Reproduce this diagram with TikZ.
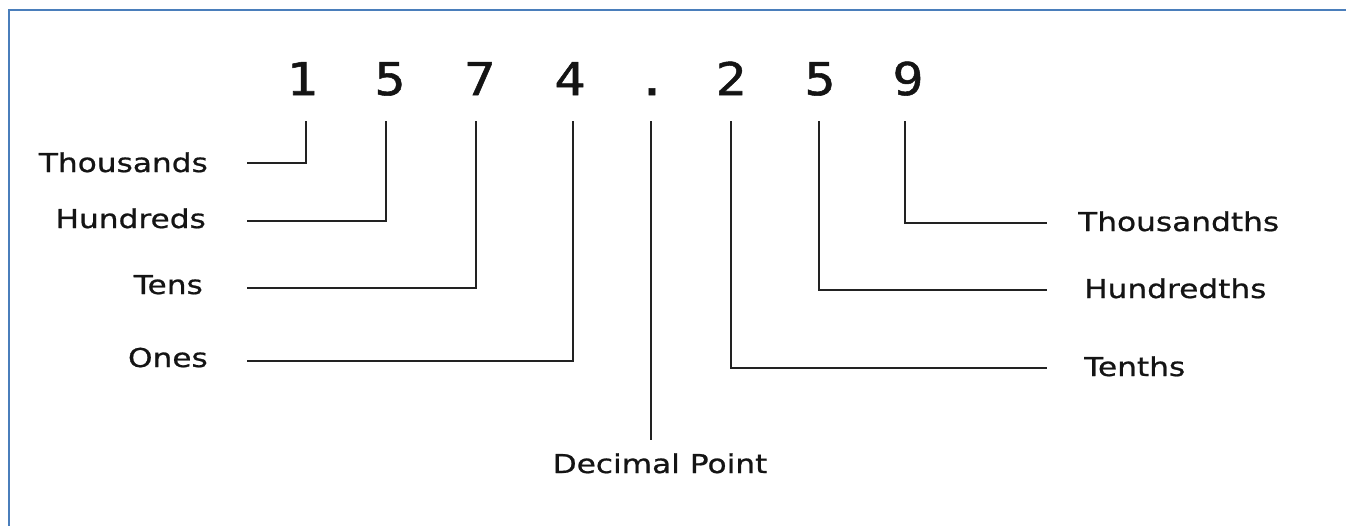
\documentclass[tikz,border=0pt]{standalone}
\usepackage{fontspec}
\setmainfont[FakeStretch=1.2,FakeBold=0.8]{DejaVu Sans}
\newfontfamily\digitfont[FakeStretch=1.15,FakeBold=1.2]{DejaVu Sans Mono}
\definecolor{frameblue}{HTML}{4A7EBB}
\definecolor{ink}{HTML}{141414}
\definecolor{wire}{HTML}{222222}
\tikzset{
  digit/.style={inner sep=0pt, text=ink, font=\digitfont\fontsize{45}{50}\selectfont, anchor=base},
  place/.style={inner sep=0pt, text=ink, font=\fontsize{26}{30}\selectfont},
  leader/.style={draw=wire, line width=2pt},
  frame/.style={draw=frameblue, line width=2.8pt}
}
\begin{document}
\begin{tikzpicture}[x=1pt,y=-1pt]
  \useasboundingbox (0,0) rectangle (1346,525);
  % frame (top and left edges)
  \draw[frame] (9,530) -- (9,10) -- (1350,10);

  % the number
  \node[digit] (d1) at (302,95) {1};
  \node[digit] (d2) at (390,95) {5};
  \node[digit] (d3) at (480,95) {7};
  \node[digit] (d4) at (570,95) {4};
  \node[digit] (dp) at (652,95) {.};
  \node[digit] (d5) at (731,95) {2};
  \node[digit] (d6) at (820,95) {5};
  \node[digit] (d7) at (908,95) {9};

  % place-value labels
  \node[place, anchor=base east] (thousands) at (208,172) {Thousands};
  \node[place, anchor=base east] (hundreds)  at (206,228) {Hundreds};
  \node[place, anchor=base east] (tens)      at (203,294) {Tens};
  \node[place, anchor=base east] (ones)      at (208,367) {Ones};
  \node[place, anchor=base west] (thousandths) at (1078,231) {Thousandths};
  \node[place, anchor=base west] (hundredths)  at (1084,298) {Hundredths};
  \node[place, anchor=base west] (tenths)      at (1084,376) {Tenths};
  \node[place, anchor=base] (point) at (660,473) {Decimal Point};

  % leader tops (just below each digit) and ends (beside each label)
  \coordinate (t1) at (306,121);
  \coordinate (t2) at (386,121);
  \coordinate (t3) at (476,121);
  \coordinate (t4) at (573,121);
  \coordinate (tp) at (651,121);
  \coordinate (t5) at (731,121);
  \coordinate (t6) at (819,121);
  \coordinate (t7) at (905,121);
  \coordinate (e1) at (247,163);
  \coordinate (e2) at (247,221);
  \coordinate (e3) at (247,288);
  \coordinate (e4) at (247,361);
  \coordinate (ep) at (651,440);
  \coordinate (e5) at (1047,368);
  \coordinate (e6) at (1047,290);
  \coordinate (e7) at (1047,223);

  \draw[leader] (t1) |- (e1);
  \draw[leader] (t2) |- (e2);
  \draw[leader] (t3) |- (e3);
  \draw[leader] (t4) |- (e4);
  \draw[leader] (tp) -- (ep);
  \draw[leader] (t5) |- (e5);
  \draw[leader] (t6) |- (e6);
  \draw[leader] (t7) |- (e7);
\end{tikzpicture}
\end{document}
